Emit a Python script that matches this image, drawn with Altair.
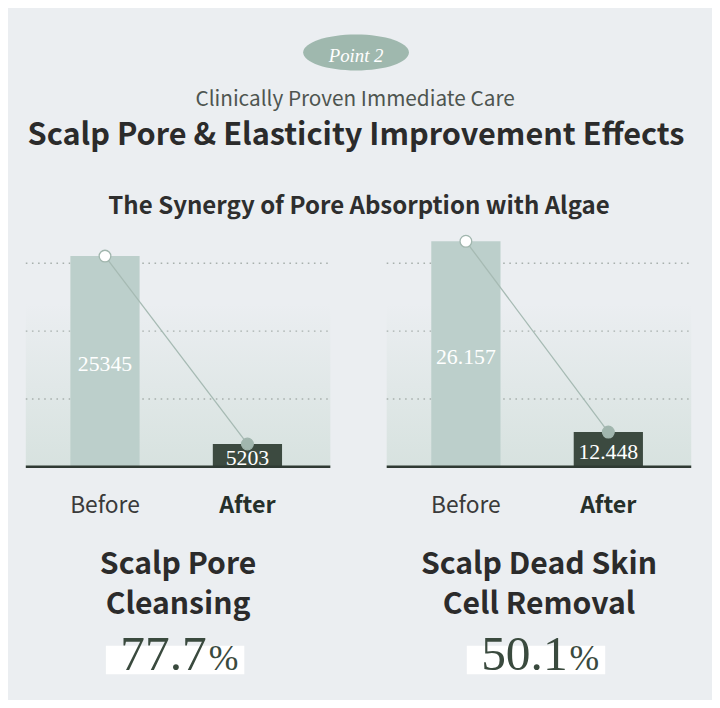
import altair as alt
import pandas as pd

# ---------------- data ----------------
categories = ["Before", "After"]
pore_values = [25345, 5203]
pore_labels = ["25345", "5203"]
skin_values = [26157, 12448]
skin_labels = ["26.157", "12.448"]
pore_axis = [2765, 28207]
skin_axis = [9962, 27010]
grid_levels = [1, 2, 3]
pore_title = ["Scalp Pore", "Cleansing"]
skin_title = ["Scalp Dead Skin", "Cell Removal"]
pore_pct = "77.7"
skin_pct = "50.1"
pct_sign = "%"
badge_text = "Point 2"
kicker_text = "Clinically Proven Immediate Care"
title_text = "Scalp Pore & Elasticity Improvement Effects"
section_text = "The Synergy of Pore Absorption with Algae"

BG = "#ebeef1"
SANS = "Noto Sans CJK KR"
SERIF = "Liberation Serif"
PW, PH = 308, 240
HW, HH = 669, 220


def one(v):
    return pd.DataFrame({"t": [v]})


def panel(values, labels, dom, lines, pct):
    df = pd.DataFrame({"cat": categories, "value": values, "label": labels,
                       "base": [dom[0]] * len(values)})
    xs = alt.X("cat:N", sort=categories, axis=None,
               scale=alt.Scale(domain=categories, paddingInner=0.514,
                               paddingOuter=0.326, align=0.48))
    yscale = alt.Scale(domain=dom, zero=False, nice=False)
    ys = alt.Y("value:Q", axis=None, scale=yscale)
    base = alt.Chart(df)

    shade = alt.Chart(one("")).mark_rect(
        fill=alt.Gradient(gradient="linear",
                          stops=[alt.GradientStop(color=BG, offset=0),
                                 alt.GradientStop(color="#d7e2df", offset=1)],
                          x1=0, x2=0, y1=0, y2=1)
    ).encode(x=alt.value(0), x2=alt.value(PW), y=alt.value(75), y2=alt.value(PH))

    grid = alt.Chart(pd.DataFrame({"g": grid_levels})).mark_rule(
        color="#a8b0ad", strokeWidth=1.5, strokeDash=[1.6, 4.6]
    ).encode(y=alt.Y("g:Q", axis=None, scale=alt.Scale(domain=[0, 3.5], nice=False)),
             x=alt.value(0), x2=alt.value(PW))

    bars = base.mark_bar().encode(
        x=xs, y=ys, y2="base:Q",
        color=alt.Color("cat:N", scale=alt.Scale(domain=categories,
                                                 range=["#bccfcb", "#3c4a40"]),
                        legend=None))

    axis_line = alt.Chart(one("")).mark_rule(color="#2f3a33", strokeWidth=2.5).encode(
        x=alt.value(0), x2=alt.value(PW), y=alt.value(PH))

    line = base.mark_line(color="#a6bab3", strokeWidth=1.3).encode(x=xs, y=ys)

    dots = base.mark_circle(size=140, opacity=1, stroke="#a1b6ae", strokeWidth=1.3).encode(
        x=xs, y=ys,
        fill=alt.Fill("cat:N", scale=alt.Scale(domain=categories,
                                               range=["#ffffff", "#a1b6ae"]),
                      legend=None))

    vals = base.transform_calculate(mid="(datum.value + datum.base) / 2").mark_text(
        font=SERIF, fontSize=22, color="white", baseline="middle", dy=3
    ).encode(x=xs, y=alt.Y("mid:Q", axis=None, scale=yscale), text="label:N")

    xlab_b = base.transform_filter("datum.cat == 'Before'").mark_text(
        font=SANS, fontSize=23, color="#3a3a3a", baseline="alphabetic"
    ).encode(x=xs, y=alt.value(287), text="cat:N")
    xlab_a = base.transform_filter("datum.cat == 'After'").mark_text(
        font=SANS, fontSize=23.5, fontWeight="bold", color="#26302a", baseline="alphabetic"
    ).encode(x=xs, y=alt.value(287), text="cat:N")

    t1 = alt.Chart(one(lines[0])).mark_text(
        font=SANS, fontSize=30.5, fontWeight="bold", color="#2b2b2b", baseline="alphabetic"
    ).encode(x=alt.value(PW / 2), y=alt.value(348), text="t:N")
    t2 = alt.Chart(one(lines[1])).mark_text(
        font=SANS, fontSize=30.5, fontWeight="bold", color="#2b2b2b", baseline="alphabetic"
    ).encode(x=alt.value(PW / 2), y=alt.value(389), text="t:N")

    hl = alt.Chart(one("")).mark_rect(color="white").encode(
        x=alt.value(81), x2=alt.value(221), y=alt.value(421), y2=alt.value(450))
    num = alt.Chart(one(pct)).mark_text(
        font=SERIF, fontSize=50, color="#3a4a3e", align="right", baseline="alphabetic"
    ).encode(x=alt.value(183), y=alt.value(446), text="t:N")
    sign = alt.Chart(one(pct_sign)).mark_text(
        font=SERIF, fontSize=36, color="#3a4a3e", align="left", baseline="alphabetic"
    ).encode(x=alt.value(185), y=alt.value(446), text="t:N")

    return alt.layer(shade, grid, bars, axis_line, line, dots, vals,
                     xlab_b, xlab_a, t1, t2, hl, num, sign).resolve_scale(
        y="independent").properties(width=PW, height=PH)


ellipse = "M-1,0A1,0.34,0,1,1,1,0A1,0.34,0,1,1,-1,0Z"
pill = alt.Chart(one(badge_text)).mark_point(
    shape=ellipse, size=107 ** 2, filled=True, fill="#9fb8ae", opacity=1, strokeWidth=0
).encode(x=alt.value(334), y=alt.value(41))
badge = alt.Chart(one(badge_text)).mark_text(
    font=SERIF, fontStyle="italic", fontSize=19, color="white", baseline="alphabetic"
).encode(x=alt.value(334), y=alt.value(51), text="t:N")
kicker = alt.Chart(one(kicker_text)).mark_text(
    font=SANS, fontSize=21, color="#4e5550", baseline="alphabetic"
).encode(x=alt.value(333), y=alt.value(95), text="t:N")
title = alt.Chart(one(title_text)).mark_text(
    font=SANS, fontSize=31, fontWeight="bold", color="#2b2b2b", baseline="alphabetic"
).encode(x=alt.value(334), y=alt.value(135), text="t:N")
section = alt.Chart(one(section_text)).mark_text(
    font=SANS, fontSize=24.3, fontWeight="bold", color="#2e2e2e", baseline="alphabetic"
).encode(x=alt.value(337), y=alt.value(204), text="t:N")

header = alt.layer(pill, badge, kicker, title, section).properties(width=HW, height=HH)

p1 = panel(pore_values, pore_labels, pore_axis, pore_title, pore_pct)
p2 = panel(skin_values, skin_labels, skin_axis, skin_title, skin_pct)

chart = alt.vconcat(header, alt.hconcat(p1, p2, spacing=53), spacing=0).properties(
    padding={"left": 16, "top": 0, "right": 19, "bottom": 16},
    background=BG,
).configure_view(stroke=None)

chart.save("out.html", embed_options={"renderer": "svg", "actions": False})
